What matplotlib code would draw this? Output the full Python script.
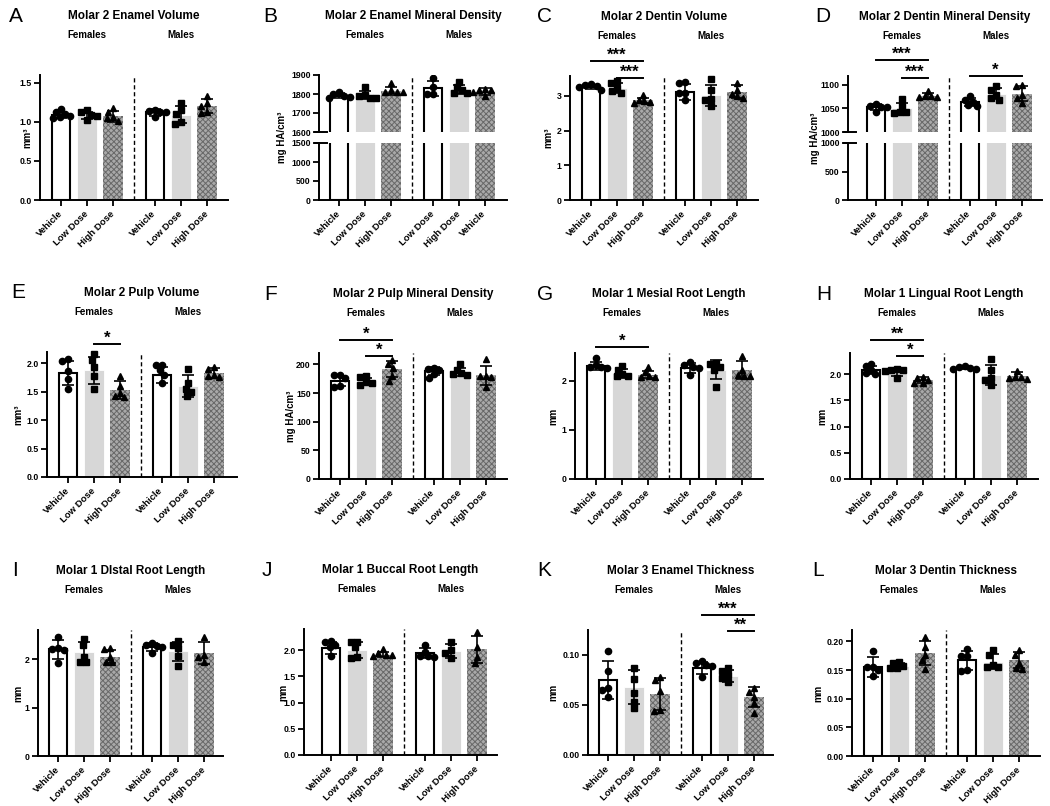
import matplotlib
matplotlib.use('Agg')
import matplotlib.pyplot as plt
from matplotlib.lines import Line2D
import numpy as np

plt.rcParams['font.family'] = ['Liberation Sans', 'DejaVu Sans']
plt.rcParams['hatch.linewidth'] = 0.7

# ---------------- data ----------------
labels_std = ['Vehicle', 'Low Dose', 'High Dose', 'Vehicle', 'Low Dose', 'High Dose']
labels_B = ['Vehicle', 'Low Dose', 'High Dose', 'Low Dose', 'High Dose', 'Vehicle']

A_pts = [[1.16, 1.12, 1.10, 1.07, 1.06, 1.05], [1.15, 1.12, 1.09, 1.07, 1.03], [1.18, 1.13, 1.06, 1.05, 1.01],
         [1.15, 1.14, 1.13, 1.12, 1.06], [1.24, 1.15, 1.10, 1.00, 0.97], [1.33, 1.24, 1.20, 1.12, 1.11]]
A_mean = [1.09, 1.08, 1.07, 1.12, 1.09, 1.20]
A_sd = [0.04, 0.04, 0.07, 0.04, 0.11, 0.09]

B_pts = [[1808, 1800, 1790, 1783, 1780], [1835, 1797, 1787, 1781, 1778], [1857, 1822, 1813, 1812, 1808],
         [1886, 1836, 1800, 1798], [1865, 1835, 1822, 1806, 1804], [1825, 1822, 1820, 1812, 1787]]
B_mean = [1792, 1795, 1815, 1830, 1826, 1813]
B_sd = [12, 23, 20, 41, 24, 16]

C_pts = [[3.33, 3.30, 3.28, 3.24, 3.17], [3.43, 3.37, 3.22, 3.13, 3.08], [3.01, 2.89, 2.84, 2.82, 2.80],
         [3.41, 3.37, 3.08, 3.07, 2.87], [3.49, 3.17, 2.91, 2.89, 2.71], [3.37, 3.17, 3.06, 2.98, 2.93]]
C_mean = [3.26, 3.22, 2.87, 3.11, 3.01, 3.12]
C_sd = [0.06, 0.15, 0.08, 0.22, 0.30, 0.19]

D_pts = [[1059, 1055, 1053, 1052, 1043], [1069, 1055, 1043, 1042, 1041], [1087, 1076, 1075, 1074, 1073],
         [1075, 1068, 1064, 1057, 1055], [1097, 1089, 1078, 1071, 1068], [1099, 1097, 1078, 1071, 1062]]
D_mean = [1052, 1050, 1076, 1063, 1081, 1081]
D_sd = [6, 11, 6, 8, 12, 15]

E_pts = [[2.08, 2.04, 1.87, 1.72, 1.55], [2.16, 2.06, 1.94, 1.77, 1.55], [1.77, 1.60, 1.47, 1.42, 1.40],
         [1.98, 1.97, 1.88, 1.80, 1.65], [1.90, 1.65, 1.55, 1.50, 1.42], [1.93, 1.90, 1.80, 1.77, 1.76]]
E_mean = [1.83, 1.88, 1.53, 1.80, 1.60, 1.83]
E_sd = [0.21, 0.24, 0.16, 0.14, 0.20, 0.08]

F_pts = [[182, 181, 177, 162, 161], [180, 178, 169, 168, 165], [208, 200, 194, 180, 171],
         [194, 192, 191, 183, 177], [200, 191, 185, 183, 181], [209, 180, 180, 178, 161]]
F_mean = [171, 171, 192, 188, 187, 181]
F_sd = [9, 6, 14, 7, 7, 17]

G_pts = [[2.46, 2.33, 2.29, 2.28, 2.26], [2.31, 2.22, 2.14, 2.10, 2.10], [2.29, 2.19, 2.10, 2.09, 2.09],
         [2.39, 2.33, 2.29, 2.26, 2.12], [2.37, 2.35, 2.28, 2.22, 1.88], [2.51, 2.22, 2.12, 2.11, 2.11]]
G_mean = [2.30, 2.16, 2.13, 2.27, 2.23, 2.22]
G_sd = [0.08, 0.09, 0.08, 0.10, 0.20, 0.18]

H_pts = [[2.20, 2.15, 2.08, 2.01, 2.00], [2.09, 2.08, 2.07, 2.06, 1.92], [1.95, 1.92, 1.89, 1.82, 1.82],
         [2.15, 2.14, 2.11, 2.09, 2.09], [2.28, 2.08, 1.92, 1.89, 1.79], [2.06, 1.95, 1.94, 1.92, 1.90]]
H_mean = [2.08, 2.03, 1.88, 2.12, 1.99, 1.96]
H_sd = [0.08, 0.07, 0.06, 0.03, 0.19, 0.08]

I_pts = [[2.46, 2.22, 2.20, 2.19, 1.92], [2.42, 2.30, 2.05, 1.95, 1.93], [2.22, 2.21, 2.05, 1.95, 1.93],
         [2.34, 2.29, 2.27, 2.25, 2.12], [2.38, 2.29, 2.22, 2.06, 1.86], [2.46, 2.08, 2.05, 1.93]]
I_mean = [2.20, 2.14, 2.05, 2.25, 2.16, 2.13]
I_sd = [0.19, 0.21, 0.13, 0.08, 0.20, 0.23]

J_pts = [[2.18, 2.16, 2.10, 2.06, 1.89], [2.16, 2.15, 2.05, 1.87, 1.85], [2.01, 1.94, 1.91, 1.90, 1.89],
         [2.10, 1.97, 1.89, 1.88, 1.87], [2.16, 2.00, 1.95, 1.85], [2.34, 2.05, 1.87, 1.76]]
J_mean = [2.04, 2.00, 1.91, 1.94, 1.98, 2.01]
J_sd = [0.12, 0.15, 0.05, 0.09, 0.13, 0.26]

K_pts = [[0.104, 0.084, 0.067, 0.065, 0.058], [0.087, 0.076, 0.062, 0.053, 0.047], [0.078, 0.075, 0.064, 0.045, 0.044],
         [0.094, 0.092, 0.090, 0.089, 0.078], [0.087, 0.084, 0.080, 0.077, 0.073], [0.067, 0.063, 0.058, 0.052, 0.042]]
K_mean = [0.075, 0.068, 0.061, 0.087, 0.079, 0.058]
K_sd = [0.019, 0.017, 0.016, 0.006, 0.006, 0.010]

L_pts = [[0.184, 0.156, 0.155, 0.150, 0.139], [0.165, 0.162, 0.157, 0.153, 0.153], [0.208, 0.191, 0.177, 0.168, 0.152],
         [0.187, 0.175, 0.174, 0.150, 0.149], [0.185, 0.177, 0.159, 0.156, 0.155], [0.185, 0.177, 0.162, 0.153, 0.152]]
L_mean = [0.155, 0.157, 0.180, 0.167, 0.165, 0.168]
L_sd = [0.017, 0.005, 0.021, 0.017, 0.013, 0.014]

# ---------------- layout ----------------
W, H = 1050, 806
fig = plt.figure(figsize=(10.5, 8.06), dpi=100)
xpos = [0, 1, 2, 3.6, 4.6, 5.6]
sep_x = 2.8
UNIT = 26.0  # px per x unit
markers = ['o', 's', '^']
BW = 0.77
TICKFS = 6.3


def fx(x):
    return x / W


def fy(y):
    return 1 - y / H


def swarm(vals, ypu, d=6.0):
    placed, offs = [], []
    for v in vals:
        y = v * ypu
        forb = []
        for (px, py) in placed:
            dy = abs(y - py)
            if dy < d:
                hw = np.sqrt(d * d - dy * dy)
                forb.append((px - hw, px + hw))
        cands = [0.0] + [a for a, b in forb] + [b for a, b in forb]
        cands.sort(key=lambda c: (abs(c), c))
        x = 0.0
        for c in cands:
            if all(not (a + 1e-6 < c < b - 1e-6) for a, b in forb):
                x = c
                break
        placed.append((x, y))
        offs.append(x / UNIT)
    return offs


def style(ax, show_bottom=True):
    for s in ['top', 'right']:
        ax.spines[s].set_visible(False)
    ax.spines['left'].set_linewidth(1.4)
    ax.spines['bottom'].set_linewidth(1.4)
    if not show_bottom:
        ax.spines['bottom'].set_visible(False)
    ax.tick_params(axis='both', width=1.3, length=4, labelsize=TICKFS, pad=2)
    ax.patch.set_alpha(0)


def draw_data(ax, pts, means, sds, ypu, marks=True):
    for k, x in enumerate(xpos):
        st = k % 3
        m = means[k]
        if st == 0:
            ax.bar(x, m, width=BW - 0.07, color='white', edgecolor='black', linewidth=1.5, zorder=2)
        elif st == 1:
            ax.bar(x, m, width=BW, color='#d7d7d7', edgecolor='white', linewidth=0.6, zorder=2)
        else:
            ax.bar(x, m, width=BW, color='#a9a9a9', edgecolor='#686868', hatch='xxxxxx', linewidth=0, zorder=2)
        if not marks:
            continue
        offs = swarm(pts[k], ypu)
        ax.plot([x + o for o in offs], pts[k], ls='none', marker=markers[st], ms=4.5 if st < 2 else 5.0,
                color='black', zorder=3, clip_on=False)
        ax.errorbar(x, m, yerr=sds[k], fmt='none', ecolor='black', elinewidth=1.2, capsize=4.5,
                    capthick=1.2, zorder=4)


def set_xlabels(ax, labels):
    ax.set_xticks(xpos)
    ax.set_xticklabels(labels, rotation=45, ha='right', va='center', rotation_mode='anchor',
                       fontweight='bold', fontsize=6.8)
    ax.tick_params(axis='x', pad=5)


def set_ylabels(ax, ticks, tlabels, ylim):
    ax.set_ylim(*ylim)
    ax.set_yticks(ticks)
    ax.set_yticklabels(tlabels, fontweight='bold', fontsize=TICKFS)


def headers(letter, lx, left, first, right, top, title):
    fig.text(fx(lx), fy(top - 59), letter, fontsize=15, ha='left', va='center')
    fig.text(fx((left + right) / 2), fy(top - 59), title, fontsize=8.5, fontweight='bold',
             ha='center', va='center')
    fig.text(fx(first + xpos[1] * UNIT), fy(top - 40), 'Females', fontsize=7, fontweight='bold',
             ha='center', va='center')
    fig.text(fx(first + xpos[4] * UNIT), fy(top - 40), 'Males', fontsize=7, fontweight='bold',
             ha='center', va='center')


def bracket(first, i, j, ypx, label):
    x1 = first + xpos[i] * UNIT
    x2 = first + xpos[j] * UNIT
    fig.add_artist(Line2D([fx(x1), fx(x2)], [fy(ypx), fy(ypx)], color='black', lw=1.4))
    fig.text(fx((x1 + x2) / 2), fy(ypx - 1), label, fontsize=12, fontweight='bold',
             ha='center', va='baseline')


def make_ax(left, first, right, top, bottom):
    xl = ((left - first) / UNIT, (right - first) / UNIT)
    ax = fig.add_axes([fx(left), fy(bottom), (right - left) / W, (bottom - top) / H])
    ax.set_xlim(*xl)
    return ax


def simple_panel(letter, lx, left, first, right, top, bottom, pts, means, sds, ylim, ticks, tl,
                 ylabel, ylx, title, brackets=()):
    ax = make_ax(left, first, right, top, bottom)
    style(ax)
    ypu = (bottom - top) / (ylim[1] - ylim[0])
    draw_data(ax, pts, means, sds, ypu)
    set_ylabels(ax, ticks, tl, ylim)
    set_xlabels(ax, labels_std)
    ax.axvline(sep_x, color='black', ls=(0, (3, 2)), lw=1.0, zorder=1)
    fig.text(fx(ylx), fy((top + bottom) / 2), ylabel, rotation=90, fontsize=7, fontweight='bold',
             ha='center', va='center')
    headers(letter, lx, left, first, right, top, title)
    for b in brackets:
        bracket(first, *b)
    return ax


def broken_panel(letter, lx, left, first, right, top, split1, split2, bottom, pts, means, sds,
                 ylim_u, ticks_u, tl_u, ylim_l, ticks_l, tl_l, xlabels, ylabel, ylx, title, brackets=()):
    axu = make_ax(left, first, right, top, split1)
    axl = make_ax(left, first, right, split2, bottom)
    style(axu, show_bottom=False)
    style(axl)
    ypu_u = (split1 - top) / (ylim_u[1] - ylim_u[0])
    draw_data(axu, pts, means, sds, ypu_u)
    draw_data(axl, pts, means, sds, 1.0, marks=False)
    for art in axu.lines:
        art.set_clip_on(True)
    set_ylabels(axu, ticks_u, tl_u, ylim_u)
    set_ylabels(axl, ticks_l, tl_l, ylim_l)
    axu.set_xticks([])
    set_xlabels(axl, xlabels)
    # break marks
    fig.add_artist(Line2D([fx(left - 4), fx(left + 8)], [fy(split1), fy(split1)], color='black', lw=1.4))
    fig.add_artist(Line2D([fx(left - 4), fx(left + 8)], [fy(split2), fy(split2)], color='black', lw=1.4))
    xs = first + sep_x * UNIT
    fig.add_artist(Line2D([fx(xs), fx(xs)], [fy(bottom), fy(top)], color='black', ls=(0, (3, 2)), lw=1.0))
    fig.text(fx(ylx), fy((top + bottom) / 2), ylabel, rotation=90, fontsize=7, fontweight='bold',
             ha='center', va='center')
    headers(letter, lx, left, first, right, top, title)
    for b in brackets:
        bracket(first, *b)


# Row 1
simple_panel('A', 9, 40, 61, 228, 75, 200, A_pts, A_mean, A_sd, (0, 1.6), [0, 0.5, 1.0, 1.5],
             ['0.0', '0.5', '1.0', '1.5'], 'mm³', 27, 'Molar 2 Enamel Volume')
broken_panel('B', 263, 319, 339, 507, 75, 132, 143, 200, B_pts, B_mean, B_sd,
             (1600, 1900), [1600, 1700, 1800, 1900], ['1600', '1700', '1800', '1900'],
             (0, 1500), [0, 500, 1000, 1500], ['0', '500', '1000', '1500'], labels_B,
             'mg HA/cm³', 282, 'Molar 2 Enamel Mineral Density')
simple_panel('C', 537, 570, 591, 758, 76, 200, C_pts, C_mean, C_sd, (0, 3.57), [0, 1, 2, 3],
             ['0', '1', '2', '3'], 'mm³', 548, 'Molar 2 Dentin Volume',
             brackets=[(0, 2, 61, '***'), (1, 2, 78, '***')])
broken_panel('D', 815, 848, 876, 1042, 76, 132, 143, 200, D_pts, D_mean, D_sd,
             (1000, 1118), [1000, 1050, 1100], ['1000', '1050', '1100'],
             (0, 1000), [0, 500, 1000], ['0', '500', '1000'], labels_std,
             'mg HA/cm³', 815, 'Molar 2 Dentin Mineral Density',
             brackets=[(0, 2, 60, '***'), (1, 2, 78, '***'), (3, 5, 76, '*')])

# Row 2
simple_panel('E', 11, 47, 68, 237, 352, 477, E_pts, E_mean, E_sd, (0, 2.2), [0, 0.5, 1.0, 1.5, 2.0],
             ['0.0', '0.5', '1.0', '1.5', '2.0'], 'mm³', 18, 'Molar 2 Pulp Volume',
             brackets=[(1, 2, 344, '*')])
simple_panel('F', 264, 319, 340, 507, 353, 479, F_pts, F_mean, F_sd, (0, 220), [0, 50, 100, 150, 200],
             ['0', '50', '100', '150', '200'], 'mg HA/cm³', 291, 'Molar 2 Pulp Mineral Density',
             brackets=[(0, 2, 340, '*'), (1, 2, 356, '*')])
simple_panel('G', 537, 575, 596, 763, 353, 479, G_pts, G_mean, G_sd, (0, 2.57), [0, 1, 2],
             ['0', '1', '2'], 'mm', 553, 'Molar 1 Mesial Root Length',
             brackets=[(0, 2, 347, '*')])
simple_panel('H', 816, 850, 871, 1038, 353, 479, H_pts, H_mean, H_sd, (0, 2.4), [0, 0.5, 1.0, 1.5, 2.0],
             ['0.0', '0.5', '1.0', '1.5', '2.0'], 'mm', 822, 'Molar 1 Lingual Root Length',
             brackets=[(0, 2, 340, '**'), (1, 2, 356, '*')])

# Row 3
simple_panel('I', 12, 38, 58, 223, 630, 756, I_pts, I_mean, I_sd, (0, 2.6), [0, 1, 2],
             ['0', '1', '2'], 'mm', 18, 'Molar 1 DIstal Root Length')
simple_panel('J', 262, 304, 331, 497, 629, 755, J_pts, J_mean, J_sd, (0, 2.4), [0, 0.5, 1.0, 1.5, 2.0],
             ['0.0', '0.5', '1.0', '1.5', '2.0'], 'mm', 283, 'Molar 1 Buccal Root Length')
simple_panel('K', 537, 588, 608, 773, 630, 755, K_pts, K_mean, K_sd, (0, 0.125), [0, 0.05, 0.10],
             ['0.00', '0.05', '0.10'], 'mm', 553, 'Molar 3 Enamel Thickness',
             brackets=[(3, 5, 615, '***'), (4, 5, 631, '**')])
simple_panel('L', 812, 852, 873, 1040, 630, 756, L_pts, L_mean, L_sd, (0, 0.22),
             [0, 0.05, 0.10, 0.15, 0.20], ['0.00', '0.05', '0.10', '0.15', '0.20'], 'mm', 818,
             'Molar 3 Dentin Thickness')

fig.savefig('out.png', dpi=100)
